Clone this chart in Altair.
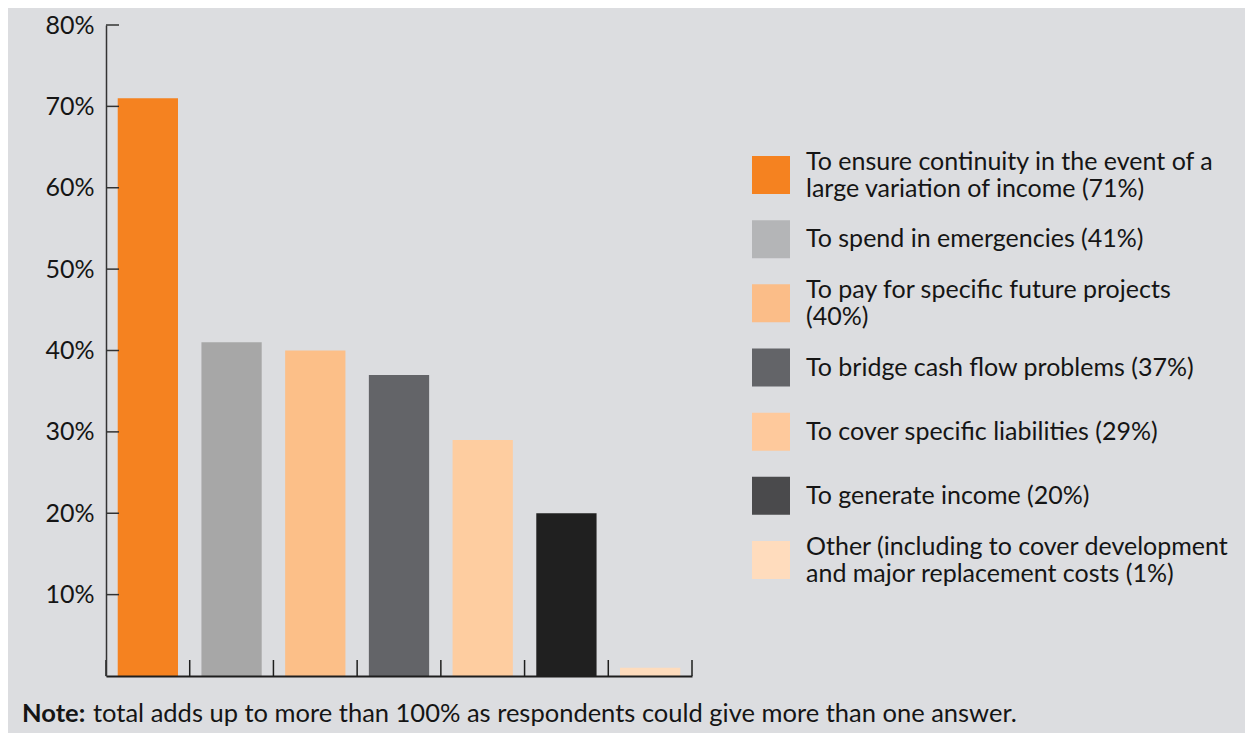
import altair as alt
import pandas as pd

# ---- data ----
labels = [
    "To ensure continuity in the event of a|large variation of income (71%)",
    "To spend in emergencies (41%)",
    "To pay for specific future projects|(40%)",
    "To bridge cash flow problems (37%)",
    "To cover specific liabilities (29%)",
    "To generate income (20%)",
    "Other (including to cover development|and major replacement costs (1%)",
]
values = [71, 41, 40, 37, 29, 20, 1]
bar_colors = ["#f58220", "#a7a7a7", "#fcbf88", "#636468", "#fecda0", "#202020", "#fedcbd"]
legend_colors = ["#f58220", "#b4b5b7", "#fbbd88", "#636468", "#fec99c", "#4a4a4c", "#ffdcbd"]
y_ticks = [10, 20, 30, 40, 50, 60, 70, 80]
x_ticks = [0, 1, 2, 3, 4, 5, 6, 7]
note_bold = ["Note:"]
note_text = ["total adds up to more than 100% as respondents could give more than one answer."]

W, H = 586, 651
FONT = "Lato"
TXT = "#151515"
LH = 27

df = pd.DataFrame({
    "label": labels,
    "value": values,
    "bar_color": bar_colors,
    "legend_color": legend_colors,
    "idx": list(range(len(labels))),
})
xt_df = pd.DataFrame({"t": x_ticks})
yt_df = pd.DataFrame({"v": y_ticks})
note_df = pd.DataFrame({"bold": note_bold, "text": note_text})

x_scale = alt.Scale(domain=[0, 7], nice=False, zero=False)
y_scale = alt.Scale(domain=[0, 80], nice=False)
x_axis = alt.Axis(title=None, labels=False, ticks=False, grid=False,
                  domainColor="#1e1e1e", domainWidth=2, zindex=1)
y_axis = alt.Axis(title=None, values=y_ticks, labelExpr="datum.value + '%'",
                  ticks=False, grid=False, domainColor="#333333", domainWidth=1.5,
                  labelFont=FONT, labelFontSize=25, labelColor=TXT, labelPadding=12,
                  zindex=1)

bars = alt.Chart(df).transform_calculate(
    x0="datum.idx + 0.14", x1="datum.idx + 0.86"
).mark_bar().encode(
    x=alt.X("x0:Q", scale=x_scale, axis=x_axis),
    x2="x1:Q",
    y=alt.Y("value:Q", scale=y_scale, axis=y_axis),
    y2=alt.datum(0),
    color=alt.Color("bar_color:N", scale=None),
)

xticks = alt.Chart(xt_df).mark_rule(color="#1e1e1e", strokeWidth=1.5).encode(
    x=alt.X("t:Q", scale=x_scale, axis=x_axis),
    y=alt.value(H),
    y2=alt.value(H - 16),
)

yticks = alt.Chart(yt_df).mark_rule(color="#333333", strokeWidth=1.5).encode(
    y=alt.Y("v:Q", scale=y_scale, axis=y_axis),
    x=alt.value(0),
    x2=alt.value(13),
)

main = alt.layer(bars, xticks, yticks)

leg_y = alt.Y("label:N", sort=labels, axis=None,
              scale=alt.Scale(type="point", domain=labels, range=[150, 535], padding=0))

squares = alt.Chart(df).mark_square(size=1444, opacity=1, strokeWidth=0).encode(
    y=leg_y,
    x=alt.value(665),
    color=alt.Color("legend_color:N", scale=None),
)

text_props = dict(align="left", baseline="middle", font=FONT, fontSize=25,
                  lineBreak="|", lineHeight=LH, color=TXT)

texts_single = alt.Chart(df).transform_filter(
    "indexof(datum.label, '|') < 0"
).mark_text(**text_props).encode(
    y=leg_y, x=alt.value(700), text="label:N",
)

texts_double = alt.Chart(df).transform_filter(
    "indexof(datum.label, '|') >= 0"
).mark_text(dy=-LH / 2, **text_props).encode(
    y=leg_y, x=alt.value(700), text="label:N",
)

note1 = alt.Chart(note_df).mark_text(
    align="left", baseline="alphabetic", font=FONT, fontSize=25.5,
    fontWeight="bold", color=TXT,
).encode(x=alt.value(-84), y=alt.value(697), text="bold:N")

note2 = alt.Chart(note_df).mark_text(
    align="left", baseline="alphabetic", font=FONT, fontSize=25.5, color=TXT,
).encode(x=alt.value(-13), y=alt.value(697), text="text:N")

legend_layer = alt.layer(squares, texts_single, texts_double, note1, note2)

chart = alt.layer(main, legend_layer).resolve_scale(
    y="independent"
).properties(
    width=W,
    height=H,
    autosize=alt.AutoSizeParams(type="none"),
    padding={"left": 98, "top": 17, "right": 553, "bottom": 57},
    background="#dcdde0",
).configure_view(stroke=None)

chart.save("out.html", embed_options={"renderer": "svg", "actions": False})
